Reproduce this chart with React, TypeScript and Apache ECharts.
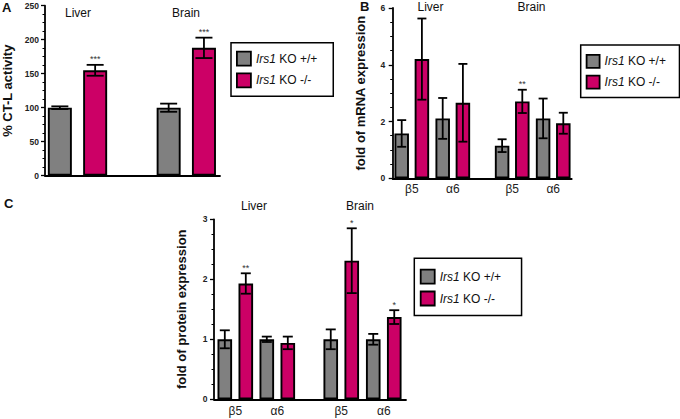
import React, { useEffect, useRef } from 'react';
import * as echarts from 'echarts';

const FONT = '"Liberation Sans", Arial, Helvetica, sans-serif';
const GRAY = '#808080';
const MAG = '#cc0066';
const WT = 'Irs1 KO +/+';
const KO = 'Irs1 KO -/-';

// Panel A: % CT-L activity
const aGroups = ['Liver', 'Brain'];
const aWT = [100, 100];
const aWTErr = [2, 6];
const aKO = [155, 188];
const aKOErr = [8, 15];
const aKOStars = ['***', '***'];

// Panel B: fold of mRNA expression
const genes = ['β5', 'α6'];
const bLiverWT = [1.58, 2.11];
const bLiverWTErr = [0.47, 0.72];
const bLiverKO = [4.2, 2.66];
const bLiverKOErr = [1.43, 1.37];
const bLiverStars = ['', ''];
const bBrainWT = [1.15, 2.11];
const bBrainWTErr = [0.225, 0.7];
const bBrainKO = [2.71, 1.94];
const bBrainKOErr = [0.41, 0.37];
const bBrainStars = ['**', ''];

// Panel C: fold of protein expression
const cLiverWT = [1.0, 1.0];
const cLiverWTErr = [0.15, 0.045];
const cLiverKO = [1.93, 0.94];
const cLiverKOErr = [0.17, 0.105];
const cLiverStars = ['**', ''];
const cBrainWT = [1.0, 1.0];
const cBrainWTErr = [0.165, 0.09];
const cBrainKO = [2.31, 1.37];
const cBrainKOErr = [0.54, 0.115];
const cBrainStars = ['*', '*'];

// axis ranges
const aRange = { min: 0, max: 250, interval: 50 };
const bRange = { min: 0, max: 6, interval: 2 };
const cRange = { min: 0, max: 3, interval: 1 };

function groupSeries(
  axisIdx: number,
  cats: string[],
  wt: number[],
  wtErr: number[],
  ko: number[],
  koErr: number[],
  stars: string[],
  barW: number,
  gap: number,
  cap: number
) {
  const barBase = {
    type: 'bar',
    xAxisIndex: axisIdx,
    yAxisIndex: axisIdx,
    barWidth: barW,
    barGap: (gap / barW) * 100 + '%',
    silent: true,
  };
  return [
    {
      ...barBase,
      name: WT,
      data: wt,
      itemStyle: { color: GRAY, borderColor: '#000', borderWidth: 1.9 },
    },
    {
      ...barBase,
      name: KO,
      data: ko,
      itemStyle: { color: MAG, borderColor: '#000', borderWidth: 1.9 },
    },
    {
      type: 'custom',
      xAxisIndex: axisIdx,
      yAxisIndex: axisIdx,
      silent: true,
      clip: false,
      z: 5,
      data: cats.map((_, i) => [i, wt[i]]),
      renderItem: (params: any, api: any) => {
        const i = params.dataIndex;
        const cat = api.value(0);
        const children: any[] = [];
        const sets: [number[], number[], number, string][] = [
          [wt, wtErr, -1, ''],
          [ko, koErr, 1, stars[i]],
        ];
        sets.forEach(([m, e, side, st]) => {
          const top = api.coord([cat, m[i] + e[i]]);
          const bot = api.coord([cat, m[i] - e[i]]);
          const x = top[0] + (side * (barW + gap)) / 2;
          const ls = { stroke: '#000', lineWidth: 1.8 };
          children.push({ type: 'line', shape: { x1: x, y1: top[1], x2: x, y2: bot[1] }, style: ls });
          children.push({ type: 'line', shape: { x1: x - cap, y1: top[1], x2: x + cap, y2: top[1] }, style: ls });
          children.push({ type: 'line', shape: { x1: x - cap, y1: bot[1], x2: x + cap, y2: bot[1] }, style: ls });
          if (st) {
            children.push({
              type: 'text',
              x,
              y: top[1] - 1,
              style: {
                text: st,
                textAlign: 'center',
                textVerticalAlign: 'bottom',
                fontSize: 9,
                fontFamily: FONT,
                fill: '#333',
              },
            });
          }
        });
        return { type: 'group', children };
      },
    },
  ];
}

function visibleY(gridIndex: number, r: any, name: string, nameGap: number, margin: number) {
  return {
    gridIndex,
    type: 'value',
    min: r.min,
    max: r.max,
    interval: r.interval,
    axisLine: { show: true, lineStyle: { color: '#000', width: 1.8 } },
    axisTick: { show: true, length: 4, lineStyle: { color: '#000', width: 1.3 } },
    minorTick: { show: true, splitNumber: 4, length: 2.5, lineStyle: { color: '#000', width: 1 } },
    axisLabel: { fontSize: 8.5, fontWeight: 'bold', color: '#222', fontFamily: FONT, margin },
    splitLine: { show: false },
    name,
    nameLocation: 'middle',
    nameGap,
    nameTextStyle: { fontSize: 13, fontWeight: 'bold', fontFamily: FONT, color: '#111' },
  };
}
function hiddenY(gridIndex: number, r: any) {
  return { gridIndex, type: 'value', min: r.min, max: r.max, show: false, splitLine: { show: false } };
}
function lineX(gridIndex: number) {
  return {
    gridIndex,
    type: 'value',
    min: 0,
    max: 1,
    axisLine: { show: true, onZero: false, lineStyle: { color: '#000', width: 1.8 } },
    axisTick: { show: false },
    axisLabel: { show: false },
    splitLine: { show: false },
  };
}
function catX(gridIndex: number, cats: string[], showLabel: boolean, margin: number) {
  return {
    gridIndex,
    type: 'category',
    data: cats,
    axisLine: { show: false },
    axisTick: { show: false },
    axisLabel: { show: showLabel, fontSize: 12, color: '#222', fontFamily: FONT, margin },
    splitLine: { show: false },
  };
}

function legendAt(left: number, top: number, size: number, padding: number[]) {
  return {
    left,
    top,
    orient: 'vertical',
    icon: 'rect',
    selectedMode: false,
    data: [WT, KO],
    itemWidth: size,
    itemHeight: size,
    itemGap: 6,
    padding,
    borderColor: '#000',
    borderWidth: 1.5,
    itemStyle: { borderColor: '#000', borderWidth: 1.8 },
    formatter: (name: string) => name.replace('Irs1', '{i|Irs1}'),
    textStyle: {
      fontFamily: FONT,
      fontSize: 12,
      color: '#111',
      rich: { i: { fontStyle: 'italic', fontFamily: FONT, fontSize: 12, color: '#111' } },
    },
  };
}

function txt(text: string, x: number, y: number, size: number, bold: boolean, align = 'center') {
  return {
    type: 'text',
    x,
    y,
    style: {
      text,
      fontSize: size,
      fontWeight: bold ? 'bold' : 'normal',
      fontFamily: FONT,
      fill: '#111',
      textAlign: align,
      textVerticalAlign: 'middle',
    },
  };
}

function buildOption() {
  return {
    animation: false,
    grid: [
      { left: 41, top: 5.7, width: 179, height: 170 },
      { left: 41, top: 5.7, width: 73, height: 170 },
      { left: 149.8, top: 5.7, width: 73, height: 170 },
      { left: 392.7, top: 8, width: 179, height: 170.3 },
      { left: 391.3, top: 8, width: 82, height: 170.3 },
      { left: 491.7, top: 8, width: 82, height: 170.3 },
      { left: 214, top: 219.3, width: 192, height: 180 },
      { left: 214.3, top: 219.3, width: 84, height: 180 },
      { left: 320, top: 219.3, width: 85, height: 180 },
    ],
    xAxis: [
      lineX(0),
      catX(1, [aGroups[0]], false, 5),
      catX(2, [aGroups[1]], false, 5),
      lineX(3),
      catX(4, genes, true, 5),
      catX(5, genes, true, 5),
      lineX(6),
      catX(7, genes, true, 6),
      catX(8, genes, true, 6),
    ],
    yAxis: [
      visibleY(0, aRange, '% CT-L activity', 31, 6),
      hiddenY(1, aRange),
      hiddenY(2, aRange),
      visibleY(3, bRange, 'fold of mRNA expression', 26, 7.5),
      hiddenY(4, bRange),
      hiddenY(5, bRange),
      visibleY(6, cRange, 'fold of protein expression', 26, 6.5),
      hiddenY(7, cRange),
      hiddenY(8, cRange),
    ],
    legend: [
      legendAt(231, 42.7, 14, [8, 16, 8, 5]),
      legendAt(580.7, 45, 13, [9, 13.5, 8, 5]),
      legendAt(414.3, 258.3, 14, [10.5, 20.5, 9, 5.5]),
    ],
    series: [
      ...groupSeries(1, [aGroups[0]], [aWT[0]], [aWTErr[0]], [aKO[0]], [aKOErr[0]], [aKOStars[0]], 24, 11.3, 8.5),
      ...groupSeries(2, [aGroups[1]], [aWT[1]], [aWTErr[1]], [aKO[1]], [aKOErr[1]], [aKOStars[1]], 24, 11.3, 8.5),
      ...groupSeries(4, genes, bLiverWT, bLiverWTErr, bLiverKO, bLiverKOErr, bLiverStars, 14.5, 5.7, 4.5),
      ...groupSeries(5, genes, bBrainWT, bBrainWTErr, bBrainKO, bBrainKOErr, bBrainStars, 14.5, 5.7, 4.5),
      ...groupSeries(7, genes, cLiverWT, cLiverWTErr, cLiverKO, cLiverKOErr, cLiverStars, 14.6, 6.4, 5),
      ...groupSeries(8, genes, cBrainWT, cBrainWTErr, cBrainKO, cBrainKOErr, cBrainStars, 14.6, 6.4, 5),
    ],
    graphic: [
      txt('A', 2, 7, 13, true, 'left'),
      txt('B', 360, 6, 13, true, 'left'),
      txt('C', 4, 203.5, 13, true, 'left'),
      txt(aGroups[0], 78, 12.5, 12, false),
      txt(aGroups[1], 186, 12.5, 12, false),
      txt(aGroups[0], 430.5, 6.5, 12, false),
      txt(aGroups[1], 531.5, 6.5, 12, false),
      txt(aGroups[0], 254, 206, 12, false),
      txt(aGroups[1], 360, 206, 12, false),
    ],
  };
}

export default function App() {
  const ref = useRef<HTMLDivElement>(null);
  useEffect(() => {
    const chart = echarts.init(ref.current!, null, { renderer: 'svg' });
    chart.setOption(buildOption() as any);
    return () => chart.dispose();
  }, []);
  return (
    <div
      ref={ref}
      style={{ position: 'absolute', left: 0, top: 0, width: 680, height: 419, background: '#fff' }}
    />
  );
}
